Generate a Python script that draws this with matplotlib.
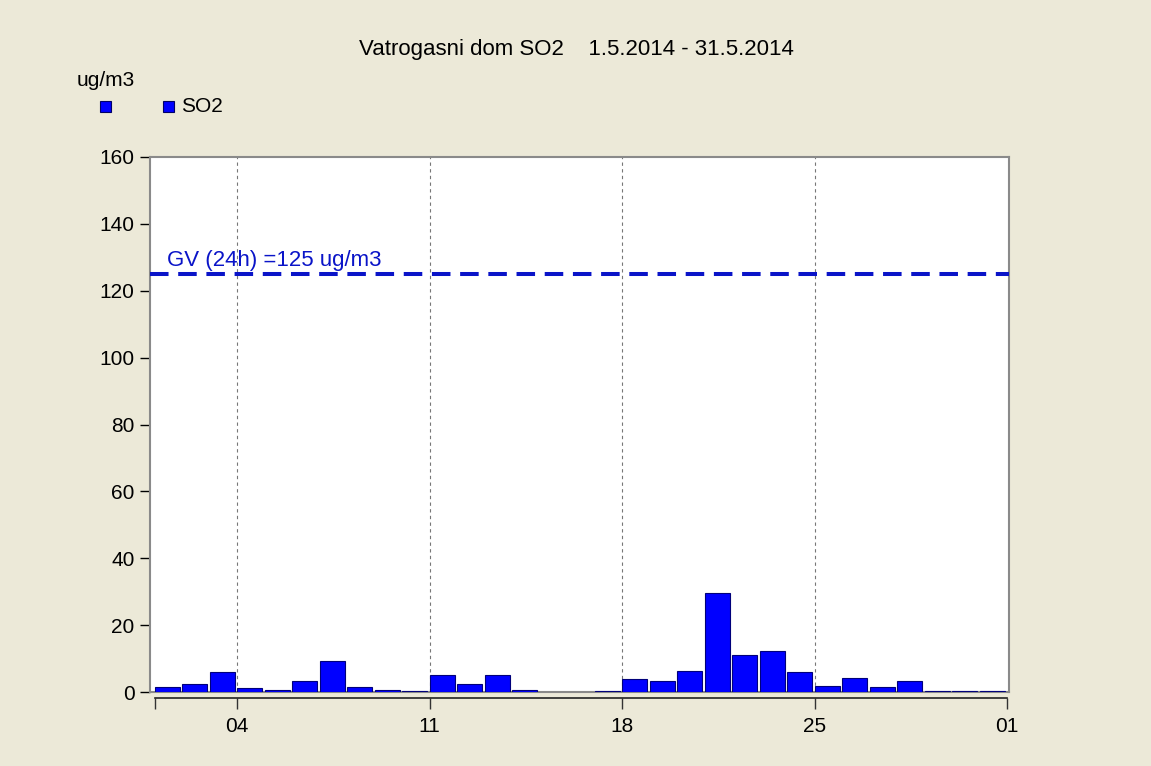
import matplotlib
matplotlib.use("Agg")
import matplotlib.pyplot as plt
from matplotlib.patches import Rectangle

plt.rcParams['font.family'] = ['Liberation Sans', 'DejaVu Sans']

# Data: day of month (May 2014) and daily mean SO2 (ug/m3); None = missing
days = list(range(1, 32))
so2 = [1.4, 2.3, 6.0, 1.1, 0.7, 3.2, 9.4, 1.4, 0.7, 0.4,
       5.1, 2.3, 5.1, 0.7, None, None, 0.4, 3.9, 3.4, 6.4,
       29.5, 11.0, 12.2, 6.0, 1.9, 4.3, 1.4, 3.2, 0.4, 0.4, 0.4]
limit_value = 125
limit_label = "GV (24h) =125 ug/m3"
tick_pos = [3, 10, 17, 24, 31]
tick_labels = ["04", "11", "18", "25", "01"]
y_ticks = [0, 20, 40, 60, 80, 100, 120, 140, 160]
title = "Vatrogasni dom SO2    1.5.2014 - 31.5.2014"
unit = "ug/m3"
series_name = "SO2"

FS = 15
FS2 = 16
bg = "#ECE9D8"
fig = plt.figure(figsize=(11.51, 7.66), dpi=100, facecolor=bg)
ax = fig.add_axes([150/1151, 1-692/766, (1009-150)/1151, (692-157)/766])
ax.set_facecolor("white")

xs = [d - 1 for d, v in zip(days, so2) if v is not None]
vs = [v for v in so2 if v is not None]
ax.bar(xs, vs, width=0.92, align='edge', color="#0000FF",
       edgecolor="#00007A", linewidth=0.8, zorder=3)

ax.axhline(limit_value, color="#0A14C8", linewidth=2.9,
           dashes=(4.6, 2.4), zorder=4)
ax.text(0.45, limit_value + 1.0, limit_label, color="#0A14C8",
        fontsize=FS2, ha='left', va='bottom', zorder=5)

for t in tick_pos[:-1]:
    ax.axvline(t, color="#777777", linewidth=0.8, linestyle=(0, (3, 3)), zorder=2)

for s in ['top', 'right', 'left']:
    ax.spines[s].set_color("#8A8A8A")
    ax.spines[s].set_linewidth(1.5)
ax.spines['bottom'].set_position(('outward', 4))

ax.set_xlim(-0.17, 31.07)
ax.set_ylim(0, 160)
ax.set_yticks(y_ticks)
ax.set_yticklabels([str(v) for v in y_ticks])
ax.set_xticks([0] + tick_pos)
ax.set_xticklabels([""] + tick_labels)
ax.tick_params(axis='y', direction='out', length=7, width=1, color="black",
               pad=4, labelsize=FS)
ax.tick_params(axis='x', direction='out', length=8, width=1, color="#333333",
               pad=6, labelsize=FS)
ax.spines['bottom'].set_bounds(0, 31)
ax.spines['bottom'].set_color("#222222")
ax.spines['bottom'].set_linewidth(1.2)
# frame line at bottom of plot area (below the bars)
ax.plot([0, 1], [0, 0], transform=ax.transAxes, color="#8A8A8A",
        linewidth=1.5, clip_on=False, zorder=2.5)

fig.text(576/1151, 1-49/766, title, ha='center', va='center', fontsize=FS2)
fig.text(77/1151, 1-80/766, unit, ha='left', va='center', fontsize=FS)
fig.patches.append(Rectangle((100/1151, 1-112/766), 11/1151, 11/766,
                             transform=fig.transFigure, facecolor="#0000FF",
                             edgecolor="#000066", linewidth=0.8))
fig.patches.append(Rectangle((163/1151, 1-112/766), 11/1151, 11/766,
                             transform=fig.transFigure, facecolor="#0000FF",
                             edgecolor="#000066", linewidth=0.8))
fig.text(181/1151, 1-106/766, series_name, ha='left', va='center', fontsize=FS)

fig.savefig("out.png", dpi=100, facecolor=bg)
